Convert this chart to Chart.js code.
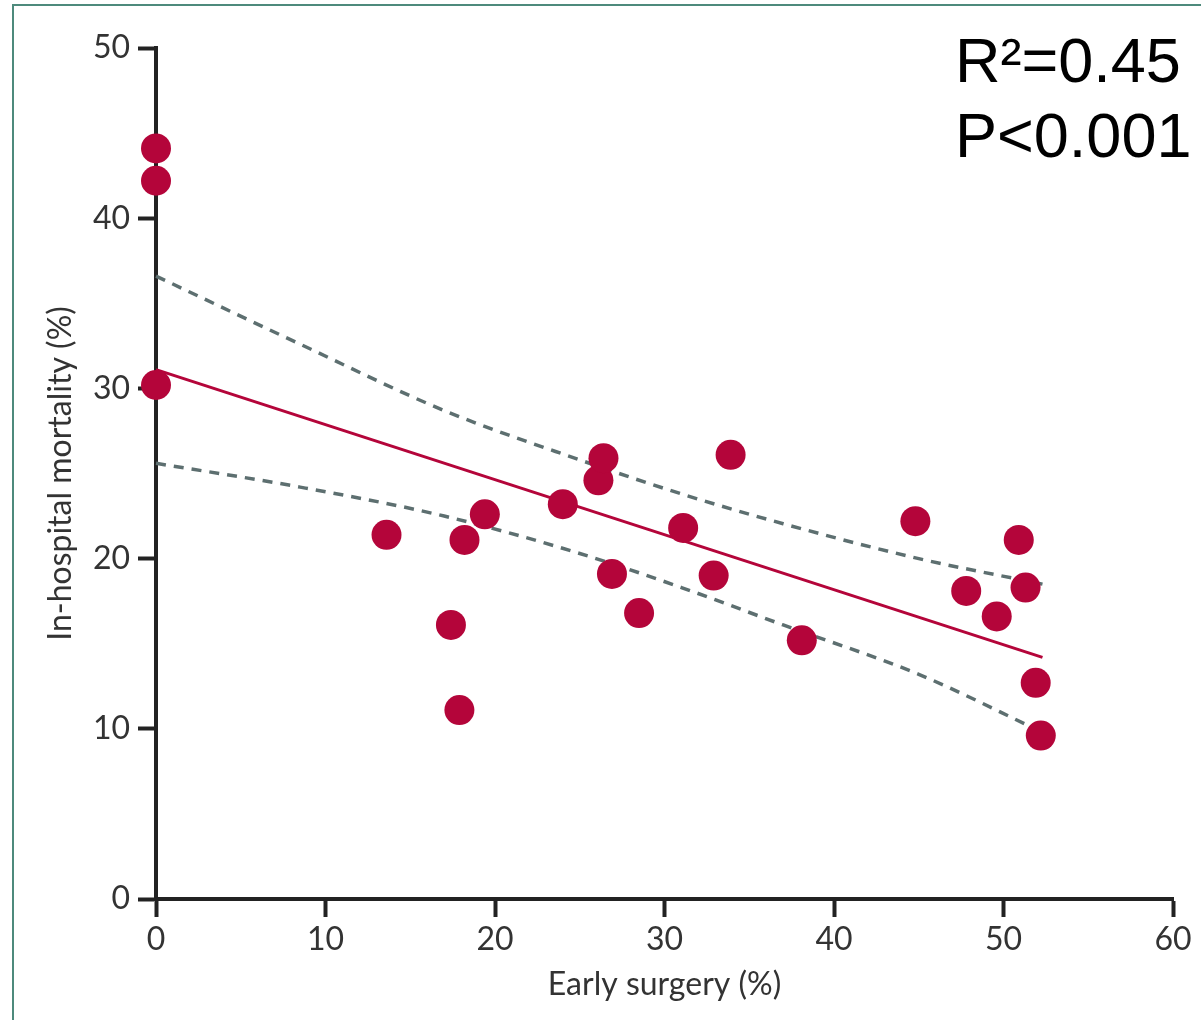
<!DOCTYPE html>
<html>
<head>
<meta charset="utf-8">
<script src="https://cdn.jsdelivr.net/npm/chart.js@4"></script>
<style>
  body { margin: 0; background: #fff; }
  canvas { display: block; }
</style>
</head>
<body>
<canvas id="myChart" width="1201" height="1020"></canvas>
<script>
// hospitals: early surgery rate vs in-hospital mortality
const earlySurgery = [0, 0, 0, 13.6, 17.4, 17.9, 18.2, 19.4, 24.0, 26.1, 26.4, 26.9,
    28.5, 31.1, 32.9, 33.9, 38.1, 44.8, 47.8, 49.6, 50.9, 51.3, 51.9, 52.2];
const mortality = [44.1, 42.2, 30.2, 21.4, 16.1, 11.1, 21.1, 22.6, 23.2, 24.6, 25.9, 19.1,
    16.8, 21.8, 19.0, 26.1, 15.2, 22.2, 18.1, 16.6, 21.1, 18.3, 12.7, 9.6];

// fitted line
const fitX = [0, 52.3];
const fitY = [31.1, 14.2];

// 95% band
const bandX = [0, 8.5, 17, 25, 31, 37, 45, 52.3];
const bandUpper = [36.6, 32.6, 28.7, 25.8, 23.8, 22.05, 20.0, 18.5];
const bandLower = [25.6, 24.2, 22.5, 20.3, 18.3, 16.1, 13.2, 9.8];

const xTicks = [0, 10, 20, 30, 40, 50, 60];
const yTicks = [0, 10, 20, 30, 40, 50];
const statLines = ["R\u00b2=0.45", "P<0.001"];

const red = "#b4053a";
const dashGrey = "#5d6f70";
const axisColor = "#222222";
const labelColor = "#333333";
const labelFont = "Lato, 'Open Sans', sans-serif";

function toPoints(xs, ys) {
    let pts = [];
    for (let i = 0; i < xs.length; i++) {
        pts.push({x: xs[i], y: ys[i]});
    }
    return pts;
}

const frameAndStats = {
    id: "frameAndStats",
    beforeDraw(chart) {
        const ctx = chart.ctx;
        ctx.save();
        ctx.strokeStyle = "#4e8a7c";
        ctx.lineWidth = 2;
        ctx.strokeRect(13, 5, 1400, 1200);
        ctx.restore();
    },
    afterDraw(chart) {
        const ctx = chart.ctx;
        ctx.save();
        ctx.fillStyle = "#000";
        ctx.font = "63px 'Liberation Sans', Arial, sans-serif";
        ctx.textAlign = "left";
        ctx.textBaseline = "alphabetic";
        ctx.fillText(statLines[0], 955, 82);
        ctx.fillText(statLines[1], 955, 157);
        ctx.restore();
    }
};

new Chart("myChart", {
    type: "scatter",
    data: {
        datasets: [{
            data: toPoints(earlySurgery, mortality),
            backgroundColor: red,
            borderWidth: 0,
            pointRadius: 15,
            pointHoverRadius: 15,
            clip: false
        }, {
            data: toPoints(fitX, fitY),
            showLine: true,
            borderColor: red,
            borderWidth: 3,
            pointRadius: 0,
            clip: false
        }, {
            data: toPoints(bandX, bandUpper),
            showLine: true,
            borderColor: dashGrey,
            borderWidth: 3.5,
            borderDash: [10, 8],
            cubicInterpolationMode: "monotone",
            pointRadius: 0,
            clip: false
        }, {
            data: toPoints(bandX, bandLower),
            showLine: true,
            borderColor: dashGrey,
            borderWidth: 3.5,
            borderDash: [10, 8],
            cubicInterpolationMode: "monotone",
            pointRadius: 0,
            clip: false
        }]
    },
    options: {
        responsive: false,
        animation: false,
        layout: {padding: {left: 0, top: 48, right: 28, bottom: 0}},
        plugins: {
            legend: {display: false},
            tooltip: {enabled: false}
        },
        scales: {
            x: {
                type: "linear",
                min: 0,
                max: 60,
                afterFit(scale) { scale.height = 121; },
                afterBuildTicks(scale) { scale.ticks = xTicks.map(v => ({value: v})); },
                ticks: {
                    color: labelColor,
                    font: {family: labelFont, size: 32},
                    padding: 3,
                    maxRotation: 0
                },
                grid: {
                    drawOnChartArea: false,
                    drawTicks: true,
                    tickLength: 18,
                    tickWidth: 4,
                    tickColor: axisColor
                },
                border: {color: axisColor, width: 4},
                title: {
                    display: true,
                    text: "Early surgery (%)",
                    color: labelColor,
                    font: {family: labelFont, size: 32},
                    padding: {top: 0, bottom: 16}
                }
            },
            y: {
                min: 0,
                max: 50,
                afterFit(scale) { scale.width = 156; },
                afterBuildTicks(scale) { scale.ticks = yTicks.map(v => ({value: v})); },
                ticks: {
                    color: labelColor,
                    font: {family: labelFont, size: 32},
                    padding: 8
                },
                grid: {
                    drawOnChartArea: false,
                    drawTicks: true,
                    tickLength: 18,
                    tickWidth: 4,
                    tickColor: axisColor
                },
                border: {color: axisColor, width: 4},
                title: {
                    display: true,
                    text: "In-hospital mortality (%)",
                    color: labelColor,
                    font: {family: labelFont, size: 32},
                    padding: {top: 41, bottom: 0}
                }
            }
        }
    },
    plugins: [frameAndStats]
});
</script>
</body>
</html>
